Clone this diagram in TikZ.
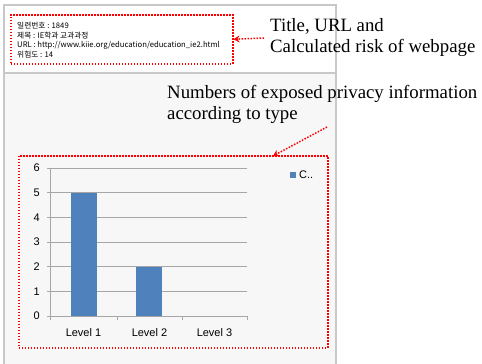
\documentclass[tikz,border=0pt]{standalone}
\usepackage{fontspec}
\setmainfont{Liberation Serif}
\newfontfamily\chartfont{Liberation Sans}
\newfontfamily\krfont{Noto Sans CJK KR}
\usetikzlibrary{arrows.meta}
\definecolor{barblue}{HTML}{4F81BD}
\definecolor{panelgray}{HTML}{F7F7F7}
\definecolor{framegray}{HTML}{C8C8C8}
\definecolor{gridgray}{HTML}{A6A6A6}
\tikzset{
  redbox/.style={draw=red, line width=1.5pt, dash pattern=on 1.5pt off 1.5pt, inner sep=0pt},
  redarrow/.style={draw=red, line width=1.5pt, dash pattern=on 1.5pt off 1.5pt, -{Stealth[length=6pt,width=7pt]}},
  notelabel/.style={font=\fontsize{18.8}{21}\selectfont, align=left, inner sep=0pt},
  axislabel/.style={font=\chartfont\fontsize{11}{12}\selectfont, inner sep=0pt},
}
\begin{document}
\begin{tikzpicture}[x=1pt,y=-1pt]
\useasboundingbox[fill=white] (0,0) rectangle (482,364);
% screen panels
\fill[white] (4,5) rectangle (336,73);
\fill[panelgray] (4,73) rectangle (336,364);
\draw[framegray, line width=1.2pt] (4,364) -- (4,5) -- (336,5) -- (336,364);
\draw[framegray, line width=1.2pt] (4,73) -- (336,73);

% page info
\node[redbox, minimum width=222pt, minimum height=49pt, anchor=north west] (infobox) at (10,14) {};
\node[anchor=north west, align=left, inner sep=0pt, font=\krfont\fontsize{7.7}{9.6}\selectfont] (pageinfo) at (17,22)
  {일련번호 : 1849\\제목 : IE학과 교과과정\\URL : http://www.kiie.org/education/education\_ie2.html\\위험도 : 14};
\node[notelabel, anchor=west] (titlelabel) at (270,38) {Title, URL and\\Calculated risk of webpage};
\draw[redarrow] (titlelabel.west) ++(-6,0) -- (infobox.east);

% chart
\node[redbox, minimum width=309pt, minimum height=192pt, anchor=north west] (chartbox) at (18,155) {};
\foreach \v in {0,...,6}{
  \draw[gridgray, line width=0.8pt] (47,316-24.67*\v) -- (247,316-24.67*\v);
  \node[axislabel, anchor=east] (ytick\v) at (40,316-24.67*\v) {\v};
}
\draw[gridgray, line width=0.8pt] (50,168) -- (50,320);
\foreach \x in {117,182,247}
  \draw[gridgray, line width=0.8pt] (\x,316) -- (\x,320);
\fill[barblue] (71,316) rectangle (97,316-24.67*5);
\fill[barblue] (136,316) rectangle (162,316-24.67*2);
\node[axislabel] (lvlone) at (83.5,333) {Level 1};
\node[axislabel] (lvltwo) at (149.5,333) {Level 2};
\node[axislabel] (lvlthree) at (214.5,333) {Level 3};
\fill[barblue] (290,172) rectangle (296,178);
\node[axislabel, anchor=west] (legend) at (299,175) {C..};

\node[notelabel, anchor=north west] (privlabel) at (167,85) {Numbers of exposed privacy information\\according to type};
\coordinate (privtail) at (327,127);
\draw[redarrow] (privtail) -- (273,156);
\end{tikzpicture}
\end{document}
